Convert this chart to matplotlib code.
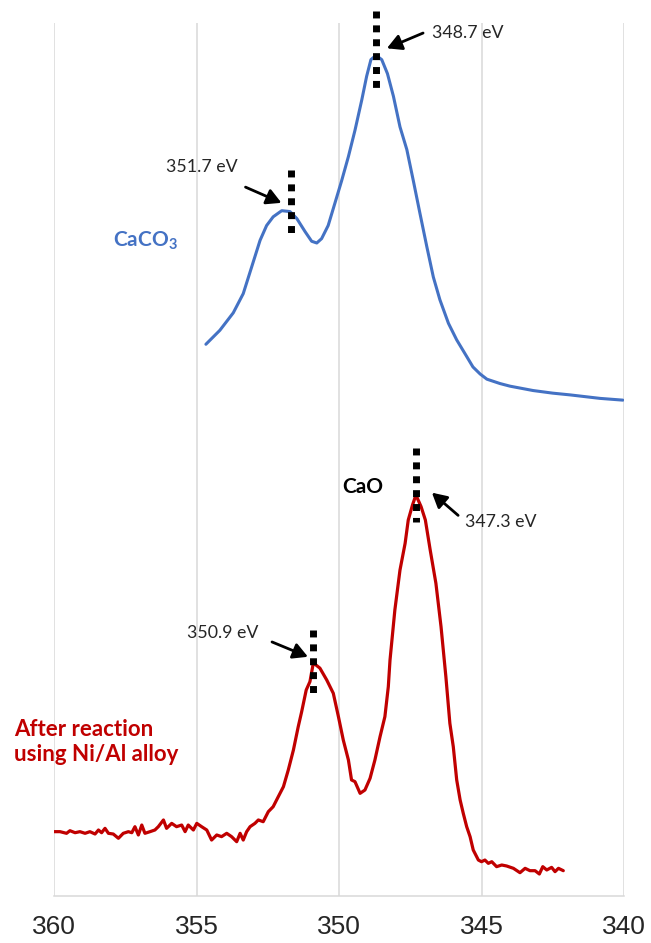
import numpy as np
import matplotlib.pyplot as plt

plt.rcParams['font.family'] = ['Lato', 'DejaVu Sans']
plt.rcParams['mathtext.fontset'] = 'custom'
plt.rcParams['mathtext.rm'] = 'Lato'
plt.rcParams['mathtext.bf'] = 'Lato:bold'

# Ca 2p XPS spectra, binding energy (eV) vs. offset intensity (a.u.)
caco3_ev = [354.67, 354.18, 353.71, 353.36, 353.06, 352.77, 352.54, 352.31,
            352.01, 351.72, 351.48, 351.19, 350.96, 350.78, 350.61, 350.38,
            350.14, 349.91, 349.67, 349.44, 349.20, 349.03, 348.88, 348.70,
            348.50, 348.30, 348.09, 347.86, 347.62, 347.39, 347.16, 346.92,
            346.69, 346.46, 346.16, 345.87, 345.52, 345.30, 345.05, 344.81,
            344.35, 344.00, 343.19, 342.50, 341.89, 340.84, 340.04]
caco3_int = [63.2, 64.8, 66.8, 69.0, 72.1, 75.1, 76.8, 77.8,
             78.5, 78.4, 77.6, 76.1, 75.0, 74.8, 75.3, 76.8,
             79.4, 81.9, 84.7, 87.7, 91.2, 93.9, 95.8, 96.3,
             95.8, 94.2, 91.6, 88.1, 85.5, 81.9, 78.2, 74.4,
             70.9, 68.3, 65.6, 63.7, 61.8, 60.6, 59.8, 59.2,
             58.7, 58.4, 57.9, 57.6, 57.4, 57.0, 56.8]

cao_ev = [360.00, 359.79, 359.56, 359.44, 359.26, 359.09, 358.91, 358.74,
          358.56, 358.44, 358.33, 358.21, 358.09, 357.92, 357.74, 357.57,
          357.39, 357.27, 357.16, 357.04, 356.92, 356.81, 356.63, 356.46,
          356.34, 356.16, 356.05, 355.87, 355.70, 355.52, 355.40, 355.29,
          355.11, 354.99, 354.82, 354.64, 354.47, 354.29, 354.12, 353.94,
          353.77, 353.59, 353.47, 353.36, 353.24, 353.12, 352.95, 352.83,
          352.66, 352.48, 352.31, 352.13, 351.95, 351.78, 351.60, 351.43,
          351.31, 351.15, 351.02, 350.90, 350.67, 350.43, 350.20, 350.02,
          349.85, 349.67, 349.56, 349.44, 349.26, 349.09, 348.91, 348.74,
          348.56, 348.39, 348.27, 348.21, 348.04, 347.86, 347.68, 347.57,
          347.42, 347.30, 347.12, 346.97, 346.80, 346.60, 346.42, 346.25,
          346.11, 345.99, 345.87, 345.75, 345.64, 345.52, 345.40, 345.29,
          345.11, 345.00, 344.88, 344.76, 344.64, 344.47, 344.29, 344.12,
          343.88, 343.65, 343.47, 343.30, 343.12, 342.97, 342.85, 342.71,
          342.54, 342.42, 342.30, 342.13]
cao_int = [7.37, 7.37, 7.18, 7.48, 7.25, 7.37, 7.18, 7.37,
           7.10, 7.56, 7.25, 7.75, 7.18, 7.10, 6.61, 7.18,
           7.37, 7.25, 7.94, 6.99, 8.13, 7.18, 7.37, 7.56,
           7.94, 8.71, 7.75, 8.32, 7.94, 8.13, 7.37, 8.13,
           7.56, 8.32, 7.94, 7.56, 6.41, 6.99, 6.80, 7.18,
           6.80, 6.22, 7.18, 6.41, 7.37, 7.94, 8.32, 8.71,
           8.51, 9.66, 10.23, 11.38, 12.52, 14.43, 16.72, 19.40,
           21.11, 23.60, 24.55, 26.70, 26.10, 24.74, 23.22, 20.54,
           17.87, 15.58, 13.29, 13.10, 11.76, 12.14, 13.48, 15.58,
           18.25, 20.54, 23.97, 27.03, 32.76, 37.34, 40.40, 43.07,
           44.80, 45.93, 44.60, 43.07, 39.63, 35.82, 30.85, 25.12,
           19.78, 17.10, 13.29, 11.00, 9.47, 7.94, 6.79, 5.27,
           4.12, 3.93, 4.12, 3.74, 3.93, 3.36, 3.55, 3.44,
           3.17, 2.67, 3.17, 2.90, 2.90, 2.52, 3.36, 2.98,
           3.28, 2.79, 3.17, 2.90]

peaks_caco3 = [351.7, 348.7]
peaks_cao = [350.9, 347.3]
xticks = [360, 355, 350, 345, 340]

BLUE = '#4472C4'
RED = '#C00000'
GRID = '#D9D9D9'

fig = plt.figure(figsize=(6.51, 9.43), dpi=100)
ax = fig.add_axes([54 / 651, 47 / 943, 570 / 651, 873 / 943])
ax.set_xlim(360, 340)
ax.set_ylim(0, 100)

for x in xticks:
    ax.axvline(x, color=GRID, lw=1.1, zorder=0)
for s in ['top', 'left', 'right']:
    ax.spines[s].set_visible(False)
ax.spines['bottom'].set_color(GRID)
ax.spines['bottom'].set_linewidth(1.1)
ax.set_yticks([])
ax.set_xticks(xticks)
ax.tick_params(axis='x', length=0, pad=14, labelsize=19, labelcolor='#262626')
for lab in ax.get_xticklabels():
    lab.set_fontfamily('Liberation Sans')

ax.plot(caco3_ev, caco3_int, color=BLUE, lw=2.2, solid_joinstyle='round',
        solid_capstyle='round', zorder=2)
ax.plot(cao_ev, cao_int, color=RED, lw=2.3, solid_joinstyle='round',
        solid_capstyle='round', zorder=2)

# dotted peak markers
dot_style = dict(color='black', lw=5.0, linestyle=(0, (1, 1)),
                 dash_capstyle='butt', zorder=3, clip_on=False)
ax.plot([peaks_caco3[0]] * 2, [83.2, 75.9], **dot_style)
ax.plot([peaks_caco3[1]] * 2, [101.4, 92.6], **dot_style)
ax.plot([peaks_cao[0]] * 2, [30.5, 23.2], **dot_style)
ax.plot([peaks_cao[1]] * 2, [51.3, 42.8], **dot_style)

arrow = dict(arrowstyle='-|>,head_length=0.55,head_width=0.3', color='black',
             lw=2.0, shrinkA=0, shrinkB=0, mutation_scale=16)
lab_font = dict(fontsize=12.8, color='#262626')

ax.annotate('', xy=(352.02, 79.4), xytext=(353.28, 81.2), arrowprops=arrow)
ax.text(353.55, 83.5, f'{peaks_caco3[0]} eV', ha='right', va='center', **lab_font)

ax.annotate('', xy=(348.32, 97.1), xytext=(347.05, 98.85), arrowprops=arrow)
ax.text(346.74, 98.85, f'{peaks_caco3[1]} eV', ha='left', va='center', **lab_font)

ax.annotate('', xy=(351.09, 27.4), xytext=(352.35, 29.1), arrowprops=arrow)
ax.text(352.84, 30.1, f'{peaks_cao[0]} eV', ha='right', va='center', **lab_font)

ax.annotate('', xy=(346.74, 46.2), xytext=(345.82, 43.6), arrowprops=arrow)
ax.text(345.58, 42.8, f'{peaks_cao[1]} eV', ha='left', va='center', **lab_font)

ax.text(357.93, 75.1, r'CaCO$_\mathbf{3}$', ha='left', va='center',
        fontsize=15, fontweight='bold', color=BLUE)
ax.text(349.89, 46.85, 'CaO', ha='left', va='center',
        fontsize=15, fontweight='bold', color='black')
ax.text(361.40, 17.6, 'After reaction\nusing Ni/Al alloy', ha='left', va='center',
        fontsize=16, fontweight='bold', color=RED, linespacing=1.25, clip_on=False)

fig.savefig('out.png', dpi=100)
